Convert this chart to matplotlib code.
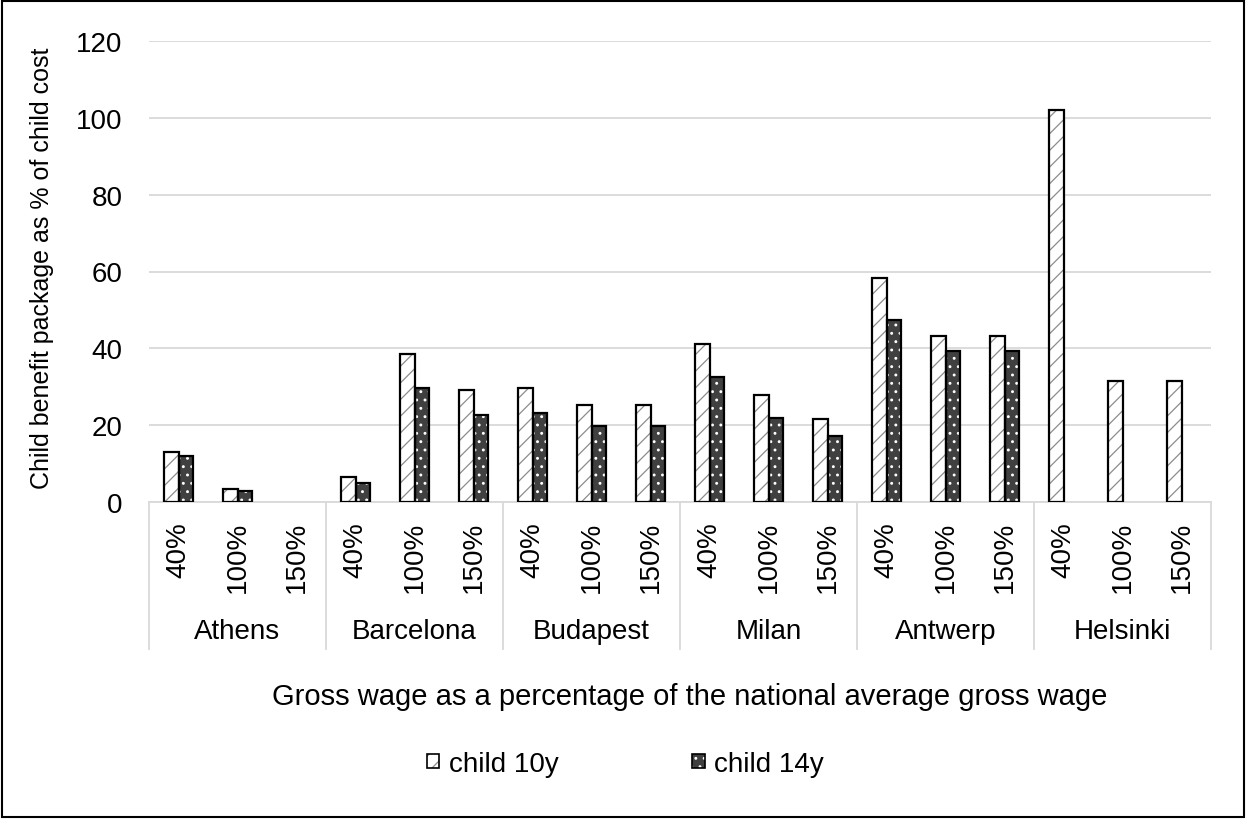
import numpy as np
import matplotlib.pyplot as plt
from matplotlib.patches import Rectangle, Patch
from matplotlib.legend_handler import HandlerTuple
from matplotlib.transforms import blended_transform_factory

plt.rcParams['font.family'] = ['Liberation Sans', 'DejaVu Sans']
plt.rcParams['hatch.linewidth'] = 0.9

cities = ['Athens', 'Barcelona', 'Budapest', 'Milan', 'Antwerp', 'Helsinki']
wage_levels = ['40%', '100%', '150%']

# child benefit package as % of child cost, per city and wage level
child_10y = [13.1, 3.4, 0.0,
             6.5, 38.5, 29.2,
             29.7, 25.3, 25.3,
             41.1, 27.9, 21.6,
             58.3, 43.2, 43.2,
             102.1, 31.6, 31.6]
child_14y = [11.9, 2.9, 0.0,
             5.0, 29.7, 22.7,
             23.2, 19.8, 19.8,
             32.6, 21.9, 17.2,
             47.5, 39.4, 39.4,
             0.0, 0.0, 0.0]

grid_col = '#d9d9d9'
fs = 20

fig = plt.figure(figsize=(12.46, 8.2), dpi=100)
ax = fig.add_axes([149 / 1246, 1 - 503 / 820, (1211 - 149) / 1246, (503 - 42) / 820])

n = len(child_10y)
x = np.arange(n)
w = 0.25


def draw_bars(pos, vals, face, hatch_col, hatch):
    vals = np.asarray(vals)
    keep = vals > 0
    # hatch first (edge colour sets hatch colour), black outline on top
    ax.bar(pos[keep], vals[keep], w, color=face, edgecolor=hatch_col, hatch=hatch, linewidth=0, zorder=2)
    ax.bar(pos[keep], vals[keep], w, fill=False, edgecolor='black', linewidth=1.6, zorder=3)


draw_bars(x - w / 2, child_10y, 'white', '#8c8c8c', '//')
draw_bars(x + w / 2, child_14y, '#404040', 'white', '..')

ax.set_xlim(-0.5, n - 0.5)
ax.set_ylim(0, 120)
ax.set_yticks(range(0, 121, 20))
ax.tick_params(axis='y', length=0, labelsize=fs, pad=19)
ax.set_xticks([])
ax.yaxis.grid(True, color=grid_col, linewidth=1.3)
ax.set_axisbelow(True)
for s in ['top', 'left', 'right']:
    ax.spines[s].set_visible(False)
ax.spines['bottom'].set_color(grid_col)
ax.spines['bottom'].set_linewidth(1.3)

# two-level category axis
trans = blended_transform_factory(ax.transData, ax.transAxes)
for i in range(len(cities) + 1):
    xs = i * 3 - 0.5
    ax.plot([xs, xs], [0, -0.319], color=grid_col, linewidth=1.3, transform=trans, clip_on=False)
for i in range(n):
    ax.text(i, -0.041, wage_levels[i % 3], rotation=90, ha='center', va='top',
            fontsize=fs, transform=trans)
for j, c in enumerate(cities):
    ax.text(j * 3 + 1, -0.28, c, ha='center', va='center', fontsize=fs, transform=trans)

fig.text(42 / 1246, 1 - 268 / 820, 'Child benefit package as % of child cost', rotation=90,
         ha='center', va='center', fontsize=18)
fig.text(690 / 1246, 1 - 697 / 820, 'Gross wage as a percentage of the national average gross wage',
         ha='center', va='center', fontsize=21)

h10 = (Patch(facecolor='white', edgecolor='#8c8c8c', hatch='//', linewidth=0),
       Patch(fill=False, edgecolor='black', linewidth=1.2))
h14 = (Patch(facecolor='#404040', edgecolor='white', hatch='..', linewidth=0),
       Patch(fill=False, edgecolor='black', linewidth=1.2))
fig.legend([h10, h14], ['child 10y', 'child 14y'], loc='center', bbox_to_anchor=(625.5 / 1246, 1 - 765 / 820),
           ncol=2, frameon=False, fontsize=fs, handlelength=0.45, handleheight=0.35, handletextpad=0.35,
           columnspacing=4.8, borderpad=0, handler_map={tuple: HandlerTuple(ndivide=1)})

fig.patches.append(Rectangle((0.002, 0.003), 0.996, 0.994, transform=fig.transFigure, fill=False,
                             edgecolor='black', linewidth=1.5))

fig.savefig('out.png', dpi=100)
